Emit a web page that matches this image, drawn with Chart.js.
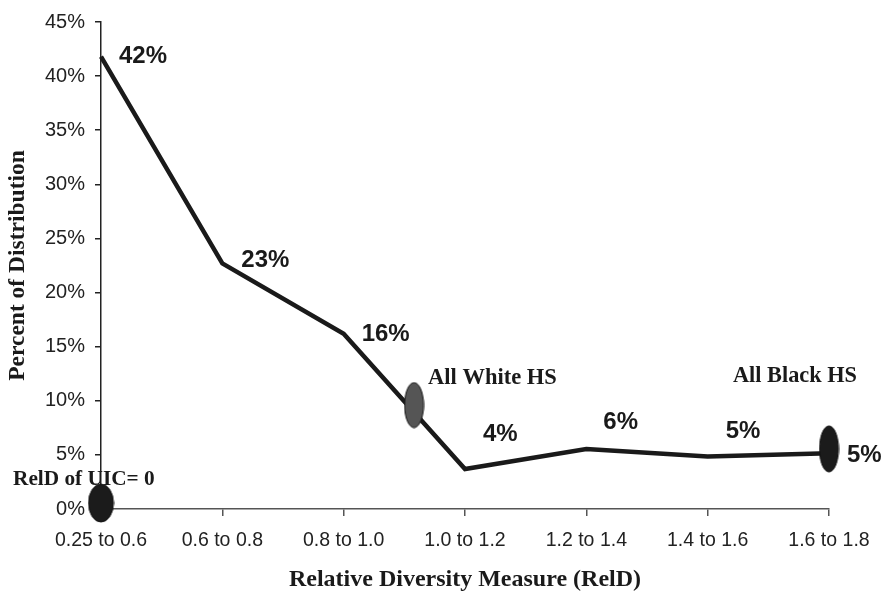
<!DOCTYPE html>
<html>
<head>
<meta charset="utf-8">
<script src="https://cdn.jsdelivr.net/npm/chart.js@4"></script>
<style>
  html, body { margin: 0; padding: 0; background: #ffffff; }
  #wrap { width: 883px; height: 591px; }
</style>
</head>
<body>
<div id="wrap"><canvas id="c" width="883" height="591"></canvas></div>
<script>
// ---- Data ----
const categories = ["0.25 to 0.6", "0.6 to 0.8", "0.8 to 1.0", "1.0 to 1.2", "1.2 to 1.4", "1.4 to 1.6", "1.6 to 1.8"];
const percentValues = [41.8, 22.7, 16.2, 3.7, 5.55, 4.85, 5.15];
const yTickValues = [0, 5, 10, 15, 20, 25, 30, 35, 40, 45];
// marker ellipses: position in category units and percent
const markerNames = ["RelD of UIC= 0", "All White HS", "All Black HS"];
const markerX = [0, 2.58, 6];
const markerY = [0.55, 9.6, 5.55];

// ---- Styles ----
const SANS = "'Liberation Sans', Arial, Helvetica, sans-serif";
const SERIF = "'Liberation Serif', 'Times New Roman', serif";
const labelOffsets = [[18, 0], [19, -3], [18, 1], [18, -35], [17, -27], [18, -25], [18, 2]];
const markerSizes = [[25, 38], [19, 45], [19, 46]];
const markerFills = ["#1b1b1b", "#555555", "#1b1b1b"];
const markerTextOffsets = [[-88, -18], [14, -21], [-96, -67]];
const markerTextSizes = [21.3, 22.5, 22.3];

function ellipseImage(w, h, fill) {
  const cv = document.createElement('canvas');
  cv.width = w + 2; cv.height = h + 2;
  const g = cv.getContext('2d');
  g.beginPath();
  g.ellipse((w + 2) / 2, (h + 2) / 2, w / 2, h / 2, 0, 0, Math.PI * 2);
  g.fillStyle = fill;
  g.fill();
  g.lineWidth = 1;
  g.strokeStyle = '#111111';
  g.stroke();
  return cv;
}
const markerImages = markerSizes.map((s, i) => ellipseImage(s[0], s[1], markerFills[i]));

const textPlugin = {
  id: 'textPlugin',
  afterDatasetsDraw(chart) {
    const ctx = chart.ctx;
    const xs = chart.scales.x, ys = chart.scales.y;
    ctx.save();
    // value labels
    ctx.font = "bold 24px " + SANS;
    ctx.fillStyle = "#1a1a1a";
    ctx.textAlign = 'left';
    ctx.textBaseline = 'middle';
    percentValues.forEach((v, i) => {
      const px = xs.getPixelForValue(i), py = ys.getPixelForValue(v);
      ctx.fillText(Math.round(v) + '%', px + labelOffsets[i][0], py + labelOffsets[i][1]);
    });
    // marker annotations
    ctx.textBaseline = 'alphabetic';
    markerNames.forEach((t, i) => {
      ctx.font = "bold " + markerTextSizes[i] + "px " + SERIF;
      const px = xs.getPixelForValue(markerX[i]), py = ys.getPixelForValue(markerY[i]);
      ctx.fillText(t, px + markerTextOffsets[i][0], py + markerTextOffsets[i][1]);
    });
    ctx.restore();
  }
};

new Chart(document.getElementById('c'), {
  type: 'line',
  data: {
    datasets: [
      {
        type: 'scatter',
        data: markerX.map((x, i) => ({ x: x, y: markerY[i] })),
        pointStyle: markerImages,
        pointRadius: 20,
        clip: false,
        showLine: false
      },
      {
        data: percentValues.map((v, i) => ({ x: i, y: v })),
        borderColor: '#1a1a1a',
        borderWidth: 4.5,
        borderJoinStyle: 'miter',
        pointRadius: 0,
        tension: 0,
        fill: false,
        clip: false
      }
    ]
  },
  options: {
    responsive: false,
    animation: false,
    devicePixelRatio: 1,
    layout: { padding: { top: 21, right: 54, left: 0, bottom: 0 } },
    plugins: { legend: { display: false }, tooltip: { enabled: false }, title: { display: false } },
    scales: {
      x: {
        type: 'linear',
        min: 0,
        max: categories.length - 1,
        offset: false,
        afterFit(scale) { scale.height = 82; },
        afterBuildTicks(scale) { scale.ticks = categories.map((c, i) => ({ value: i })); },
        ticks: {
          callback: (v) => categories[v],
          font: { family: SANS, size: 19.5 },
          color: '#222222',
          padding: 13,
          maxRotation: 0,
          autoSkip: false
        },
        grid: { drawOnChartArea: false, drawTicks: true, tickLength: 7, color: '#555555', lineWidth: 1.5 },
        border: { display: true, color: '#555555', width: 1.5 },
        title: {
          display: true,
          text: 'Relative Diversity Measure (RelD)',
          font: { family: SERIF, size: 24, weight: 'bold' },
          color: '#1a1a1a',
          padding: { top: 0, bottom: -3 }
        }
      },
      y: {
        min: 0,
        max: 45,
        afterFit(scale) { scale.width = 101; },
        afterBuildTicks(scale) { scale.ticks = yTickValues.map(v => ({ value: v })); },
        ticks: {
          callback: (v) => v + '%',
          font: { family: SANS, size: 20 },
          color: '#222222',
          padding: 10
        },
        grid: { drawOnChartArea: false, drawTicks: true, tickLength: 6, color: '#222222', lineWidth: 1.5 },
        border: { display: true, color: '#222222', width: 1.5 },
        title: {
          display: true,
          text: 'Percent of Distribution',
          font: { family: SERIF, size: 23.5, weight: 'bold' },
          color: '#1a1a1a',
          padding: { top: 4, bottom: 0 }
        }
      }
    }
  },
  plugins: [textPlugin]
});
</script>
</body>
</html>
